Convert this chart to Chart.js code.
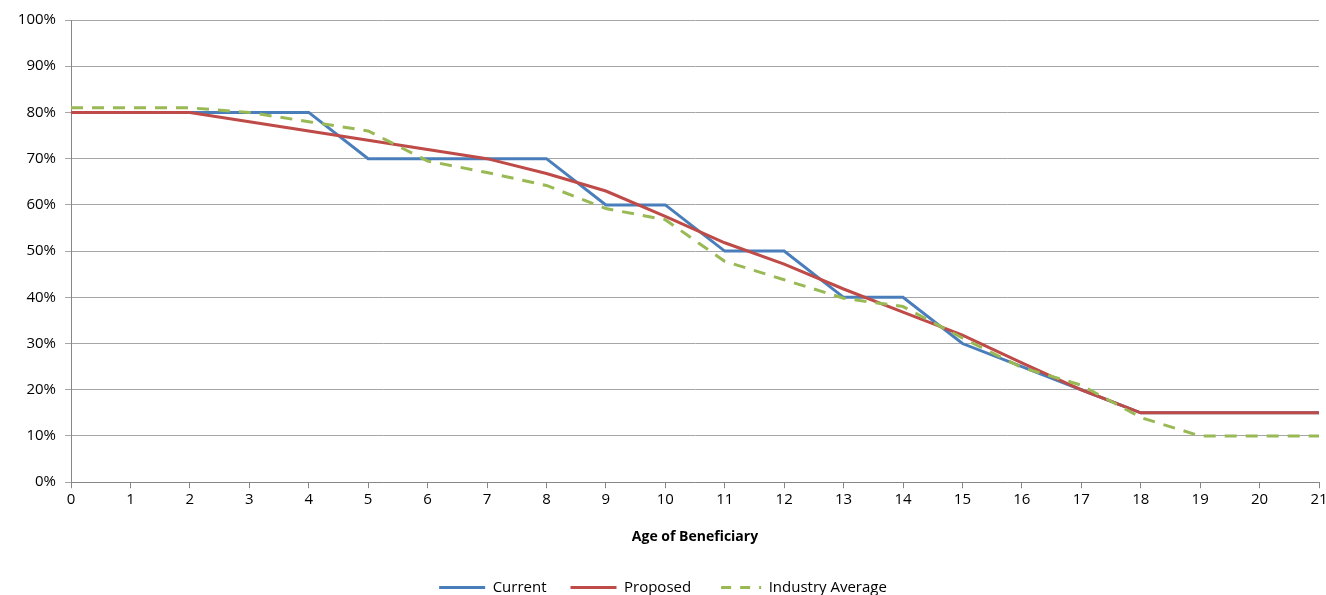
<!DOCTYPE html>
<html>
<head>
<meta charset="utf-8">
<script src="https://cdn.jsdelivr.net/npm/chart.js@4"></script>
<style>
html,body{margin:0;padding:0;background:#fff;}
#wrap{width:1326px;height:595px;position:relative;}
</style>
</head>
<body>
<div id="wrap"><canvas id="c" width="1326" height="595"></canvas></div>
<script>
const ages = ['0','1','2','3','4','5','6','7','8','9','10','11','12','13','14','15','16','17','18','19','20','21'];
const current  = [80,80,80,80,80,70,70,70,70,60,60,50,50,40,40,30,25,20,15,15,15,15];
const proposed = [80,80,80,78,76,74,72,70,66.8,63,57.5,51.8,47.2,41.8,36.8,31.8,25.8,20,15,15,15,15];
const industry = [81,81,81,80,78,76,69.5,67,64.2,59.2,56.8,47.8,43.8,39.8,38,31.2,24.8,21,14,10,10,10];
const yTicks = [0,10,20,30,40,50,60,70,80,90,100];

const font = "'Open Sans', 'Liberation Sans', sans-serif";
Chart.defaults.font.family = font;
Chart.defaults.color = '#000';

new Chart(document.getElementById('c'), {
  type: 'line',
  data: {
    labels: ages,
    datasets: [
      {label:'Current', data: current, order: 3, borderColor:'#4A7EBB', backgroundColor:'#4A7EBB', borderWidth:3, pointRadius:0, tension:0, pointStyle:'line'},
      {label:'Proposed', data: proposed, order: 2, borderColor:'#BE4B48', backgroundColor:'#BE4B48', borderWidth:3, pointRadius:0, tension:0, pointStyle:'line'},
      {label:'Industry Average', data: industry, order: 1, borderColor:'#98B954', backgroundColor:'#98B954', borderWidth:3, borderDash:[12,9], pointRadius:0, tension:0, pointStyle:'line'}
    ]
  },
  options: {
    responsive: false,
    animation: false,
    layout: {padding: {top: 20, right: 0, bottom: -10, left: 0}},
    plugins: {
      legend: {
        position: 'bottom',
        labels: {
          usePointStyle: true, pointStyleWidth: 46, boxHeight: 3, font: {size: 15, family: font}, color:'#000', padding: 24,
          generateLabels: (chart) => {
            const items = Chart.defaults.plugins.legend.labels.generateLabels(chart);
            items.forEach((it) => {
              const ds = chart.data.datasets[it.datasetIndex];
              it.lineDash = ds.borderDash ? [10, 9] : [];
              it.lineDashOffset = ds.borderDash ? -6 : 0;
              it.lineWidth = 3;
              it.strokeStyle = ds.borderColor;
              it.pointStyle = 'line';
            });
            items.sort((a, b) => a.datasetIndex - b.datasetIndex);
            return items;
          }
        }
      },
      tooltip: {enabled: false}
    },
    scales: {
      x: {
        offset: false,
        afterFit: (s) => { s.paddingRight = 7; },
        grid: {display: true, drawOnChartArea: false, drawTicks: true, tickLength: 6, color: '#868686'},
        border: {color: '#868686'},
        ticks: {font: {size: 15, family: font}, color:'#000', maxRotation: 0, autoSkip: false, padding: 3},
        title: {display: true, text: 'Age of Beneficiary', font: {size: 14, weight: 'bold', family: font}, color:'#000', padding: {top: 16, bottom: 11}}
      },
      y: {
        min: 0, max: 100,
        afterFit: (s) => { s.width = 71; },
        afterBuildTicks: (s) => { s.ticks = yTicks.map(v => ({value: v})); },
        grid: {color: '#a6a6a6', tickLength: 6, drawTicks: true},
        border: {color: '#868686'},
        ticks: {font: {size: 15, family: font}, color:'#000', padding: 9, callback: (v) => v + '%'}
      }
    }
  }
});
</script>
</body>
</html>
